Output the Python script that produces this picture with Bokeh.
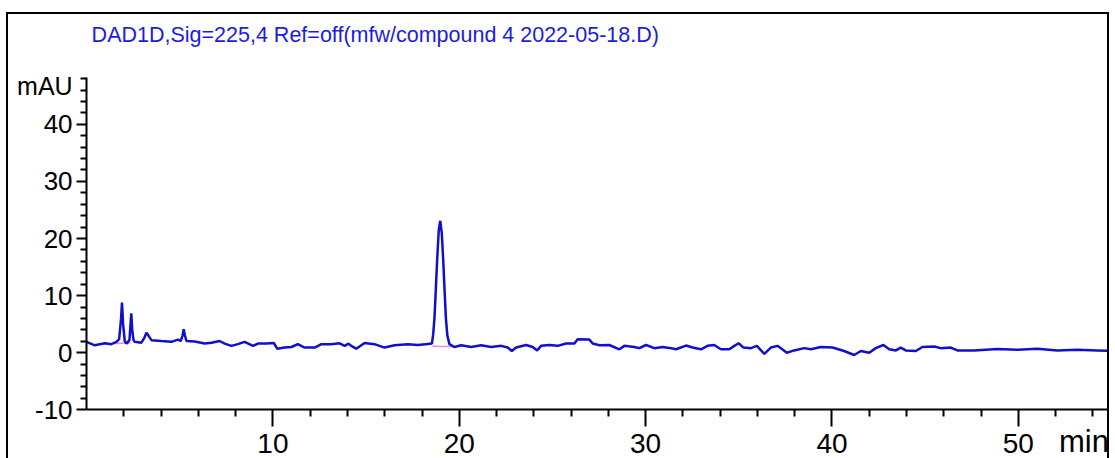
from bokeh.plotting import figure
from bokeh.models import FixedTicker, Label
from bokeh.embed import file_html
from bokeh.resources import INLINE

# ---- data ----
time_min = [0.0, 0.44, 0.98, 1.33, 1.6, 1.75, 1.85, 1.9, 1.96, 2.05, 2.14, 2.3, 2.36, 2.4, 2.45,
            2.52, 2.58, 2.94, 3.1, 3.21, 3.32, 3.48, 4.0, 4.55, 4.9, 5.05, 5.15, 5.21, 5.28, 5.36,
            5.8, 6.34, 6.7, 7.14, 7.41, 7.77, 8.12, 8.48, 8.93, 9.2, 9.65, 10.05, 10.23, 10.63,
            10.99, 11.34, 11.7, 12.24, 12.6, 13.13, 13.58, 13.85, 14.06, 14.2, 14.47, 14.92, 15.45,
            15.99, 16.53, 17.24, 17.78, 18.2, 18.53, 18.6, 18.67, 18.74, 18.81, 18.9, 18.98, 19.06,
            19.14, 19.21, 19.28, 19.36, 19.47, 19.74, 20.1, 20.64, 21.17, 21.71, 22.25, 22.6, 22.82,
            23.05, 23.59, 23.94, 24.18, 24.39, 24.84, 25.28, 25.73, 26.18, 26.35, 26.98, 27.16,
            27.52, 28.05, 28.59, 28.86, 29.39, 29.66, 30.02, 30.47, 30.91, 31.36, 31.63, 32.17,
            32.52, 32.97, 33.32, 33.68, 34.04, 34.49, 34.76, 34.99, 35.25, 35.65, 35.97, 36.37,
            36.72, 37.08, 37.58, 37.97, 38.51, 38.87, 39.4, 40.03, 40.65, 41.19, 41.55, 42.0, 42.35,
            42.76, 43.07, 43.43, 43.69, 43.96, 44.5, 44.85, 45.48, 45.84, 46.38, 46.73, 47.63,
            48.87, 49.95, 51.02, 52.09, 53.16, 54.24, 55.0]
signal_mau = [1.9, 1.3, 1.65, 1.5, 1.9, 2.4, 6.0, 8.8, 5.0, 2.0, 1.6, 2.2, 5.0, 6.9, 4.0,
              2.2, 1.9, 1.75, 2.6, 3.5, 3.0, 2.2, 2.05, 1.9, 2.3, 2.05, 3.0, 4.1, 3.0, 2.05,
              1.95, 1.6, 1.75, 2.05, 1.6, 1.2, 1.5, 1.9, 1.2, 1.6, 1.6, 1.7, 0.7, 0.9,
              1.0, 1.5, 0.9, 0.9, 1.5, 1.5, 1.65, 1.2, 1.6, 1.2, 0.7, 1.7, 1.5,
              0.9, 1.3, 1.5, 1.35, 1.5, 1.6, 3.2, 6.15, 11.0, 16.1, 21.5, 23.1, 21.0,
              16.1, 11.0, 6.15, 3.0, 1.5, 1.0, 1.3, 1.0, 1.3, 1.0, 1.2, 0.9, 0.3,
              0.9, 1.35, 1.0, 0.4, 1.2, 1.35, 1.2, 1.6, 1.6, 2.35, 2.3, 1.6,
              1.3, 1.35, 0.6, 1.2, 1.0, 0.8, 1.35, 0.8, 1.0, 0.8, 0.6, 1.25,
              0.9, 0.6, 1.2, 1.35, 0.6, 0.6, 1.2, 1.65, 0.9, 0.8, 1.2, -0.2,
              0.9, 1.2, 0.0, 0.4, 0.8, 0.6, 1.0, 0.9, 0.3, -0.4, 0.3, 0.0, 0.8,
              1.35, 0.6, 0.4, 0.9, 0.4, 0.3, 1.0, 1.1, 0.8, 0.9, 0.4, 0.4,
              0.65, 0.5, 0.7, 0.4, 0.5, 0.4, 0.3]

# integration baselines drawn under the integrated peaks
baseline_t = [[1.55, 2.35], [18.55, 19.8]]
baseline_v = [[1.6, 1.7], [1.15, 1.05]]

# axis ticks and texts
x_major = [10, 20, 30, 40, 50]
x_minor = [2, 4, 6, 8, 12, 14, 16, 18, 22, 24, 26, 28, 32, 34, 36, 38, 42, 44, 46, 48, 52, 54]
y_major = [-10, 0, 10, 20, 30, 40]
y_minor = [-8, -6, -4, -2, 2, 4, 6, 8, 12, 14, 16, 18, 22, 24, 26, 28, 32, 34, 36, 38,
           42, 44, 46, 48]
x_bounds = (0, 55)
y_bounds = (-10, 48.2)
title_text = "DAD1D,Sig=225,4 Ref=off(mfw/compound 4 2022-05-18.D)"
y_unit = "mAU"
x_unit = "min"

TRACE = "#1010cc"
FONT = "Liberation Sans"

# the frame fills the whole canvas; the axes are pinned at t=0 and -10 mAU
p = figure(width=1103, height=464, x_range=(-4.19, 55), y_range=(-22.03, 59.23),
           output_backend="svg", toolbar_location=None,
           min_border_left=0, min_border_right=0, min_border_top=0, min_border_bottom=0,
           styles={"border-top": "2px solid #000", "border-left": "2px solid #000",
                   "border-right": "2px solid #000", "margin-top": "12px",
                   "margin-left": "6px", "margin-bottom": "-40px"})
p.title.text = ""
p.title.visible = False
p.outline_line_color = None
p.xgrid.visible = False
p.ygrid.visible = False
p.background_fill_color = "white"
p.border_fill_color = "white"

p.xaxis.ticker = FixedTicker(ticks=x_major, minor_ticks=x_minor)
p.yaxis.ticker = FixedTicker(ticks=y_major, minor_ticks=y_minor)
p.xaxis.fixed_location = y_bounds[0]
p.yaxis.fixed_location = x_bounds[0]
p.xaxis.bounds = x_bounds
p.yaxis.bounds = y_bounds
p.yaxis.major_label_overrides = {-10: "-10"}
for ax in (p.xaxis[0], p.yaxis[0]):
    ax.axis_line_color = "black"
    ax.axis_line_width = 2
    ax.major_tick_line_color = "black"
    ax.major_tick_line_width = 2
    ax.minor_tick_line_color = "black"
    ax.minor_tick_line_width = 2
    ax.major_tick_in = 0
    ax.minor_tick_in = 0
    ax.major_label_text_font = FONT
    ax.major_label_text_color = "black"
p.xaxis.major_label_text_font_size = "28px"
p.yaxis.major_label_text_font_size = "26px"
p.xaxis.major_tick_out = 17
p.xaxis.minor_tick_out = 7
p.xaxis.major_label_standoff = 7
p.yaxis.major_tick_out = 10
p.yaxis.minor_tick_out = 6
p.yaxis.major_label_standoff = 4

# integration baselines
p.multi_line(baseline_t, baseline_v, line_color="#e58ce5", line_width=1.5)
# chromatogram trace
p.line(time_min, signal_mau, line_color=TRACE, line_width=2.5)

p.add_layout(Label(x=0.27, y=55.56, text=title_text, text_font=FONT,
                   text_font_size="21.5px", text_color="#1c1ce0",
                   text_baseline="middle", text_align="left"))
p.add_layout(Label(x=-0.75, y=46.7, text=y_unit,
                   text_font="Liberation Sans Narrow, " + FONT,
                   text_font_size="25px", text_color="black",
                   text_baseline="middle", text_align="right"))
p.add_layout(Label(x=53.52, y=-15.5, text=x_unit, text_font=FONT,
                   text_font_size="31px", text_color="black",
                   text_baseline="alphabetic", text_align="center"))

open("out.html", "w").write(file_html(p, INLINE))
